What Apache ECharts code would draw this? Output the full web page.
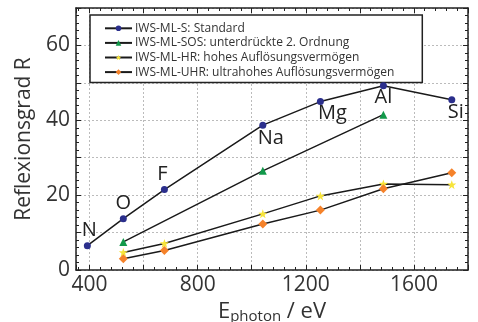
<!DOCTYPE html>
<html>
<head>
<meta charset="utf-8">
<script src="https://cdn.jsdelivr.net/npm/echarts@6/dist/echarts.min.js"></script>
<style>
	html, body { margin: 0; padding: 0; background: #fff; }
	#chart { width: 478px; height: 322px; }
</style>
</head>
<body>
<div id="chart"></div>
<script>
// element edges (photon energy, eV)
var elements = ['N', 'O', 'F', 'Na', 'Mg', 'Al', 'Si'];
var energyS = [392, 525, 677, 1041, 1254, 1487, 1740];
var valS = [6.5, 13.7, 21.5, 38.7, 45.0, 49.2, 45.5];

var energySOS = [525, 1041, 1487];
var valSOS = [7.5, 26.5, 41.5];

var energyHR = [525, 677, 1041, 1254, 1487, 1740];
var valHR = [4.7, 7.1, 15.0, 19.8, 23.0, 22.8];

var energyUHR = [525, 677, 1041, 1254, 1487, 1740];
var valUHR = [3.0, 5.2, 12.3, 16.0, 21.7, 26.0];

var seriesNames = [
	'IWS-ML-S: Standard',
	'IWS-ML-SOS: unterdrückte 2. Ordnung',
	'IWS-ML-HR: hohes Auflösungsvermögen',
	'IWS-ML-UHR: ultrahohes Auflösungsvermögen'
];

// label placement for element names
var labelPos = {
	N: { position: 'top', offset: [2, 0] },
	O: { position: 'top', offset: [0, 0] },
	F: { position: 'top', offset: [-2, 0] },
	Na: { position: 'bottom', offset: [8, -2] },
	Mg: { position: 'bottom', offset: [12, -4] },
	Al: { position: 'bottom', offset: [0, -4] },
	Si: { position: 'bottom', offset: [4, -3] }
};

function pairs(xs, ys) {
	return xs.map(function(x, i) {
		return [x, ys[i]];
	});
}

var fontFam = '"Open Sans", "DejaVu Sans", sans-serif';
var axisColor = '#222';

function xAxisDef(pos, show) {
	return {
		type: 'value',
		position: pos,
		min: 350,
		max: 1800,
		splitNumber: 7,
		axisLine: { show: true, onZero: false, lineStyle: { color: axisColor, width: 1.5 } },
		axisTick: { show: true, inside: true, length: 5, lineStyle: { color: axisColor } },
		minorTick: { show: true, splitNumber: 5, length: 3, lineStyle: { color: axisColor } },
		splitLine: { show: show, lineStyle: { color: '#bbb', type: [2, 2] } },
		axisLabel: {
			show: show,
			fontSize: 21,
			color: '#333',
			fontFamily: fontFam,
			margin: 5,
			showMinLabel: false,
			formatter: function(v) {
				return v % 400 === 0 ? String(v) : '';
			}
		}
	};
}

function yAxisDef(pos, show) {
	return {
		type: 'value',
		position: pos,
		min: 0,
		max: 70,
		interval: 10,
		axisLine: { show: true, onZero: false, lineStyle: { color: axisColor, width: 1.5 } },
		axisTick: { show: true, inside: true, length: 5, lineStyle: { color: axisColor } },
		minorTick: { show: true, splitNumber: 5, length: 3, lineStyle: { color: axisColor } },
		splitLine: { show: show, lineStyle: { color: '#bbb', type: [2, 2] } },
		axisLabel: {
			show: show,
			fontSize: 21,
			color: '#333',
			fontFamily: fontFam,
			margin: 6,
			formatter: function(v) {
				return v % 20 === 0 ? String(v) : '';
			}
		}
	};
}

var xb = xAxisDef('bottom', true);
xb.name = '{e|E}{s|photon}{e| / eV}';
xb.nameLocation = 'middle';
xb.nameGap = 24;
xb.nameTextStyle = {
	rich: {
		e: { fontSize: 22, color: '#333', fontFamily: fontFam },
		s: { fontSize: 15, color: '#333', fontFamily: fontFam, padding: [9, 0, 0, 0] }
	}
};
var yl = yAxisDef('left', true);
yl.name = 'Reflexionsgrad R';
yl.nameLocation = 'middle';
yl.nameGap = 41;
yl.nameTextStyle = { fontSize: 21, color: '#333', fontFamily: fontFam };

var lineStyle = { color: '#1a1a1a', width: 1.5 };

var chart = echarts.init(document.getElementById('chart'), null, { renderer: 'canvas' });
chart.setOption({
	animation: false,
	backgroundColor: '#fff',
	grid: { left: 76, right: 10, top: 8, bottom: 52, outerBoundsMode: 'none', containLabel: false },
	xAxis: [xb, xAxisDef('top', false)],
	yAxis: [yl, yAxisDef('right', false)],
	legend: {
		left: 90,
		top: 15,
		orient: 'vertical',
		itemGap: 0,
		itemWidth: 27,
		itemHeight: 7,
		padding: [6, 28, 3, 14],
		backgroundColor: '#fff',
		borderColor: '#222',
		borderWidth: 1.5,
		borderRadius: 0,
		textStyle: { fontSize: 12, lineHeight: 14.6, color: '#333', fontFamily: fontFam, padding: [0, 0, 0, -2] },
		data: seriesNames
	},
	series: [{
		name: seriesNames[0],
		type: 'line',
		data: pairs(energyS, valS).map(function(p, i) {
			var lp = labelPos[elements[i]];
			return {
				value: p,
				label: {
					show: true,
					formatter: elements[i],
					position: lp.position,
					offset: lp.offset,
					distance: 2,
					fontSize: 20,
					color: '#222',
					fontFamily: fontFam
				}
			};
		}),
		symbol: 'circle',
		symbolSize: 7,
		itemStyle: { color: '#2b2f8c' },
		lineStyle: lineStyle,
		z: 5
	}, {
		name: seriesNames[1],
		type: 'line',
		data: pairs(energySOS, valSOS),
		symbol: 'triangle',
		symbolSize: 8,
		itemStyle: { color: '#12994a' },
		lineStyle: lineStyle,
		z: 4
	}, {
		name: seriesNames[2],
		type: 'line',
		data: pairs(energyHR, valHR),
		symbol: 'path://M0,-10 L2.4,-3.2 L9.5,-3.1 L3.8,1.2 L5.9,8.1 L0,4 L-5.9,8.1 L-3.8,1.2 L-9.5,-3.1 L-2.4,-3.2 Z',
		symbolSize: 9,
		itemStyle: { color: '#f7e43a' },
		lineStyle: lineStyle,
		z: 3
	}, {
		name: seriesNames[3],
		type: 'line',
		data: pairs(energyUHR, valUHR),
		symbol: 'diamond',
		symbolSize: 9,
		itemStyle: { color: '#f5822a' },
		lineStyle: lineStyle,
		z: 3
	}]
});
</script>
</body>
</html>
